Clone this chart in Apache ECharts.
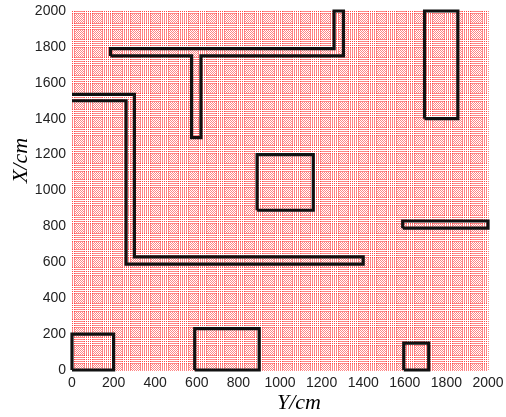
<!DOCTYPE html>
<html><head><meta charset="utf-8">
<style>html,body{margin:0;padding:0;background:#fff}#c{width:506px;height:417px}</style>
<script src="https://cdn.jsdelivr.net/npm/echarts@6/dist/echarts.min.js"></script>
</head><body><div id="c"></div>
<script>
const tickLabels = [0,200,400,600,800,1000,1200,1400,1600,1800,2000];
const roomA = [[0,0],[200,0],[200,200],[0,200],[0,0]];
const roomB = [[590,0],[900,0],[900,230],[590,230],[590,0]];
const roomC = [[1595,0],[1715,0],[1715,150],[1595,150],[1595,0]];
const roomD = [[890,890],[1160,890],[1160,1200],[890,1200],[890,890]];
const roomE = [[1695,1400],[1855,1400],[1855,2000],[1695,2000],[1695,1400]];
const wallF = [[1590,790],[2000,790],[2000,830],[1590,830],[1590,790]];
const wallG = [[0,1500],[260,1500],[260,590],[1400,590],[1400,630],[300,630],[300,1535],[0,1535]];
const wallH = [[185,1750],[575,1750],[575,1295],[620,1295],[620,1750],[1305,1750],[1305,2000],[1260,2000],[1260,1790],[185,1790],[185,1750]];
const shapes = [roomA,roomB,roomC,roomD,roomE,wallF,wallG,wallH];
const chart = echarts.init(document.getElementById('c'),null,{renderer:'canvas'});
const meshLine = {color:'#ff0000',width:1,type:[1,1],opacity:.48};
const axisCommon = {
  type:'value',min:0,max:2000,interval:200,
  axisLine:{show:false},axisTick:{show:false},
  axisLabel:{color:'#222',fontFamily:'Liberation Sans',fontSize:14,margin:6,
    formatter:v=>tickLabels.includes(v)?String(v):''},
  splitLine:{show:true,lineStyle:meshLine},
  minorSplitLine:{show:true,lineStyle:meshLine},
  nameLocation:'middle',nameMoveOverlap:false,
  nameTextStyle:{fontFamily:'Liberation Serif',fontStyle:'italic',fontSize:22,color:'#000'}
};
chart.setOption({
  animation:false,backgroundColor:'#fff',
  grid:{left:72,right:18,top:11,bottom:47,containLabel:false,outerBoundsMode:'none'},
  xAxis:Object.assign({},axisCommon,{name:'Y/cm',nameGap:22,minorTick:{show:false,splitNumber:23},
    nameTextStyle:Object.assign({},axisCommon.nameTextStyle,{padding:[0,0,0,38]})}),
  yAxis:Object.assign({},axisCommon,{name:'X/cm',nameGap:40,minorTick:{show:false,splitNumber:20},
    nameTextStyle:Object.assign({},axisCommon.nameTextStyle,{padding:[0,0,0,60]})}),
  series:shapes.map(d=>({type:'line',data:d,symbol:'none',silent:true,clip:false,
    lineStyle:{color:'#111',width:3.2,join:'miter'}}))
});
</script></body></html>
